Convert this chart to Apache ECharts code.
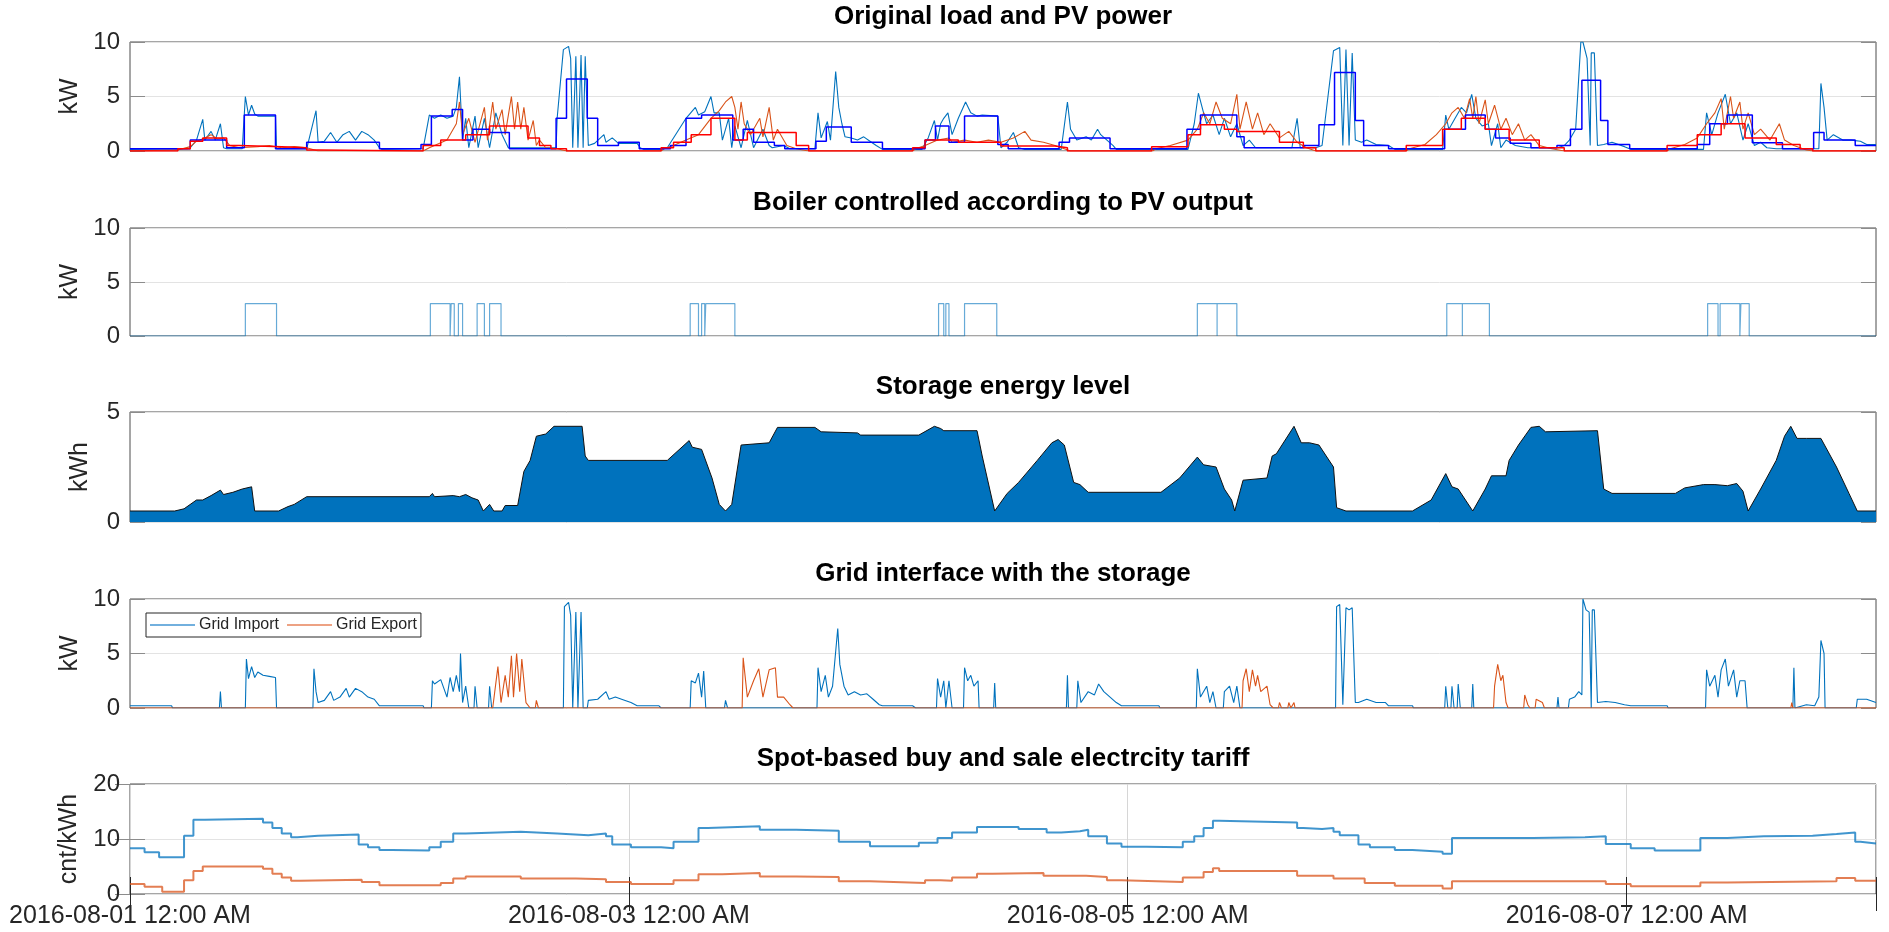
<!DOCTYPE html>
<html>
<head>
<meta charset="utf-8">
<title>Load, PV, boiler, storage and tariff</title>
<script src="https://cdn.jsdelivr.net/npm/echarts@6/dist/echarts.min.js"></script>
<style>
  html, body { margin: 0; padding: 0; background: #fff; }
  #main { width: 1889px; height: 932px; }
</style>
</head>
<body>
<div id="main"></div>
<script>
// hours since 2016-08-01 00:00 -> value
var tickHours = [0, 48, 96, 144];
var tickLabels = ['2016-08-01 12:00 AM', '2016-08-03 12:00 AM', '2016-08-05 12:00 AM', '2016-08-07 12:00 AM'];

var panelTitles = ['Original load and PV power', 'Boiler controlled according to PV output', 'Storage energy level',
    'Grid interface with the storage', 'Spot-based buy and sale electrcity tariff'];
var panelUnits = ['kW', 'kW', 'kWh', 'kW', 'cnt/kWh'];
var panelMax = [10, 10, 5, 10, 20];
var panelStep = [5, 5, 5, 5, 10];

// panel 1 : original load (raw), PV (raw), hourly load, hourly PV
var loadRaw = [[0,0.15],[5.5,0.2],[5.8,0.3],[6.4,1.0],[7.0,2.9],[7.2,1.0],[7.8,1.8],[8.2,1.0],[8.7,2.5],[9.0,0.3],[9.3,0.2],[10.8,0.2],[11.1,5.0],[11.4,3.3],[11.7,4.2],[12.0,3.4],[12.3,3.2],[14.0,3.2],[14.1,0.2],[17.0,0.2],[17.9,3.7],[18.1,0.8],[18.7,0.9],[19.3,1.7],[19.9,0.8],[20.5,1.5],[21.1,1.8],[21.7,1.0],[22.3,1.8],[22.9,1.5],[23.5,1.0],[24.0,0.3],[24.2,0.15],[28.2,0.2],[28.8,3.3],[29.3,3.0],[29.9,3.3],[30.5,3.0],[31.1,3.2],[31.4,4.0],[31.7,6.8],[32.0,1.0],[32.3,3.0],[32.6,0.3],[33.2,3.2],[33.5,0.3],[34.1,3.0],[34.6,0.3],[35.2,3.5],[35.8,1.5],[36.4,0.3],[41.0,0.3],[41.1,3.0],[41.7,9.3],[42.2,9.6],[42.4,8.5],[42.6,0.3],[42.9,8.7],[43.1,0.3],[43.4,8.8],[43.6,0.3],[43.8,8.7],[44.1,0.5],[44.7,0.7],[45.6,1.5],[45.8,0.8],[46.4,1.2],[47.0,0.7],[48.8,0.7],[49.1,0.3],[49.4,0.15],[51.1,0.15],[51.7,0.3],[53.5,3.0],[54.4,4.0],[54.7,3.3],[55.3,3.6],[55.9,5.0],[56.2,3.5],[56.7,3.5],[57.0,1.0],[57.6,3.0],[57.9,0.3],[58.2,2.3],[58.8,0.3],[59.4,2.8],[60.0,0.3],[60.9,2.0],[61.5,0.5],[61.8,0.3],[62.9,0.5],[63.5,0.2],[65.9,0.2],[66.2,3.5],[66.5,1.2],[67.1,2.7],[67.4,1.0],[67.9,7.3],[68.2,4.0],[68.5,2.5],[68.8,1.3],[69.4,1.2],[70.0,1.0],[70.6,1.3],[71.2,0.9],[71.8,0.5],[72.4,0.15],[76.2,0.15],[76.8,1.2],[77.4,2.8],[77.7,1.0],[78.0,2.5],[78.3,3.0],[78.7,3.5],[79.1,1.5],[79.7,3.0],[80.4,4.5],[80.9,3.5],[81.5,3.2],[82.0,3.3],[83.5,3.2],[83.8,0.3],[84.4,0.8],[85.0,1.7],[85.5,0.3],[86.1,0.15],[89.6,0.15],[90.2,4.5],[90.5,2.0],[91.1,1.0],[92.0,1.3],[92.5,1.0],[93.1,2.0],[93.4,1.5],[94.0,1.0],[94.6,0.5],[94.9,0.15],[101.8,0.15],[102.4,2.5],[102.8,5.3],[103.3,3.5],[103.6,2.5],[104.2,3.3],[104.8,1.5],[105.3,3.0],[105.9,1.3],[106.5,2.5],[107.1,0.5],[107.7,1.0],[108.3,0.3],[111.8,0.3],[112.3,3.0],[112.6,0.3],[114.1,0.3],[114.7,0.5],[115.8,9.2],[116.4,9.5],[116.7,0.5],[117.0,9.3],[117.3,0.5],[117.6,9.0],[117.9,1.0],[118.5,0.8],[119.0,1.0],[119.9,0.6],[121.1,0.5],[121.7,0.15],[126.3,0.15],[126.6,3.3],[126.9,2.0],[127.5,3.0],[128.1,4.0],[128.6,3.5],[129.1,5.2],[129.5,3.0],[130.1,2.3],[130.7,2.5],[131.0,0.5],[131.6,2.5],[131.9,0.3],[132.4,1.0],[133.3,0.5],[134.5,0.3],[137.4,0.3],[138.0,0.5],[138.5,1.0],[139.1,2.0],[139.6,10.0],[139.8,10.0],[140.2,8.5],[140.5,0.5],[140.6,9.0],[140.9,9.0],[141.2,0.5],[141.8,0.6],[142.6,0.8],[143.8,0.4],[144.4,0.15],[151.4,0.15],[151.7,3.5],[152.2,1.5],[152.8,3.5],[153.5,5.2],[154.0,2.5],[154.6,3.5],[155.2,1.0],[155.7,2.5],[156.3,0.5],[156.9,0.8],[157.5,0.3],[158.4,0.2],[162.5,0.2],[162.7,6.2],[163.0,4.0],[163.3,1.0],[163.9,1.5],[164.8,1.0],[165.6,1.0],[166.5,0.9],[167.1,0.6],[168,0.6]];

var pvRaw = [[0,0],[4.6,0.1],[5.8,0.4],[6.4,0.9],[7.2,1.2],[7.8,1.5],[8.4,1.1],[9.0,1.2],[9.6,0.5],[10.5,0.3],[12.3,0.4],[13.4,0.5],[14.6,0.3],[15.8,0.4],[17.0,0.3],[18.1,0],[28.2,0],[28.8,0.3],[29.3,0.5],[30.5,1.0],[31.4,2.5],[31.7,4.5],[32.0,1.5],[32.6,3.0],[33.2,0.8],[34.1,4.0],[34.4,1.0],[34.9,4.5],[35.2,2.0],[35.8,3.8],[36.1,1.5],[36.7,5.0],[37.0,2.0],[37.3,4.5],[37.6,2.0],[37.9,4.0],[38.3,1.0],[38.8,2.8],[39.1,0.5],[39.4,1.0],[40.0,0.3],[41.1,0.2],[42.0,0],[51.1,0],[51.4,0.2],[52.3,0.5],[53.5,1.0],[54.7,1.5],[55.9,3.0],[56.7,3.7],[57.3,4.5],[57.9,5.0],[58.2,4.0],[58.5,2.0],[58.8,4.5],[59.1,2.5],[59.7,1.5],[60.6,3.0],[60.9,1.3],[61.5,4.0],[61.9,1.0],[62.3,2.0],[63.2,0.5],[64.1,0.2],[65.3,0],[75.3,0],[75.6,0.2],[76.5,0.5],[77.7,1.0],[78.8,1.2],[79.1,0.8],[80.3,1.0],[81.5,0.8],[82.6,1.0],[83.8,0.8],[85.0,1.2],[86.1,1.8],[86.7,1.0],[87.9,0.8],[89.0,0.5],[89.9,0.2],[90.5,0],[98.4,0],[98.7,0.2],[100.1,0.5],[101.8,1.0],[102.7,2.0],[103.3,3.5],[103.9,2.5],[104.5,4.5],[105.1,3.0],[105.9,2.5],[106.5,5.2],[106.8,2.0],[107.4,4.5],[108.0,2.0],[108.5,3.5],[109.1,1.5],[109.7,2.5],[110.6,1.2],[111.5,1.8],[112.3,0.8],[113.2,0.3],[114.1,0],[122.8,0],[123.1,0.2],[124.6,0.6],[125.7,1.5],[126.6,2.5],[127.2,3.5],[127.8,4.0],[128.4,3.0],[128.9,4.8],[129.2,3.0],[129.5,5.0],[129.8,2.5],[130.4,4.7],[130.7,2.5],[131.3,4.2],[131.9,2.0],[132.4,3.0],[133.0,1.5],[133.6,2.5],[134.2,1.0],[134.8,1.5],[135.6,0.5],[136.8,0.2],[138.0,0],[147.9,0],[148.2,0.2],[149.6,0.6],[150.8,1.2],[151.7,2.5],[152.5,3.5],[153.1,4.8],[153.4,2.0],[154.0,5.0],[154.3,3.0],[154.9,4.5],[155.2,2.0],[155.7,3.5],[156.3,1.5],[156.9,2.0],[157.8,1.0],[158.7,2.5],[159.2,1.0],[160.1,0.5],[161.3,0.1],[161.9,0],[168,0]];

var loadHourly = [[0,0.2],[5.8,1.0],[9.3,0.3],[11.0,3.3],[14.0,0.2],[17.0,0.8],[24.0,0.2],[28.0,0.6],[29.0,3.2],[31.0,3.8],[32.0,1.0],[33.0,2.0],[34.6,1.7],[36.5,0.2],[41.0,3.0],[42.0,6.6],[44.0,3.0],[45.0,0.5],[47.0,0.8],[49.0,0.2],[52.0,0.5],[53.5,3.0],[55.0,3.3],[58.0,1.0],[59.0,2.0],[60.0,0.8],[62.0,0.5],[63.0,0.2],[66.0,0.9],[67.0,2.2],[69.4,0.8],[72.4,0.2],[76.5,1.0],[77.5,2.3],[78.8,0.8],[80.3,3.2],[83.5,0.6],[84.5,0.2],[89.4,0.8],[90.4,1.2],[94.3,0.2],[101.7,2.0],[103.0,3.3],[106.5,1.3],[107.2,0.3],[112.9,0.5],[114.4,2.4],[115.9,7.2],[117.9,2.8],[118.7,0.5],[121.1,0.2],[126.5,2.0],[128.5,3.3],[130.4,2.0],[131.4,1.2],[132.8,0.7],[134.8,0.3],[137.3,0.5],[138.6,2.0],[139.7,6.5],[141.5,2.8],[142.2,0.6],[144.3,0.2],[150.8,0.6],[152.0,2.5],[153.7,3.3],[156.1,0.75],[159.0,0.2],[162.0,1.7],[163.0,1.0],[166.0,0.5],[168,0.5]];

var pvHourly = [[0,0],[4.6,0.2],[5.8,0.9],[7.0,1.2],[9.3,0.5],[10.5,0.4],[14.6,0.3],[17.0,0.1],[18.1,0],[28.2,0.5],[29.9,1.0],[32.3,1.5],[34.6,2.3],[38.3,1.2],[39.4,0.5],[40.5,0.2],[42.0,0],[51.1,0.3],[52.3,0.8],[54.0,1.5],[55.9,3.0],[58.2,1.0],[59.4,1.7],[64.1,0.5],[65.3,0],[75.3,0.3],[76.5,1.0],[79.7,0.8],[83.8,0.45],[89.0,0.3],[90.2,0],[98.3,0.4],[101.8,1.5],[103.0,2.4],[105.3,2.0],[106.5,1.8],[110.6,0.8],[112.9,0.3],[114.1,0],[122.8,0.5],[126.3,2.0],[128.1,3.0],[130.4,2.0],[132.7,1.0],[135.6,0.3],[138.0,0],[147.9,0.5],[150.8,1.5],[153.1,2.5],[155.4,1.2],[158.4,0.6],[160.7,0.2],[161.9,0],[168,0]];

// panel 2 : boiler on/off
var boilerKw = [[0,0],[11.1,3],[14.1,0],[28.9,3],[30.8,0],[30.9,3],[31.2,0],[31.6,3],[32.0,0],[33.4,3],[34.1,0],[34.6,3],[35.7,0],[53.9,3],[54.7,0],[55.0,3],[55.3,0],[55.4,3],[58.2,0],[77.8,3],[78.3,0],[78.5,3],[78.8,0],[80.3,3],[83.4,0],[102.7,3],[104.6,0],[104.6,3],[106.5,0],[126.7,3],[128.2,0],[128.2,3],[130.8,0],[151.8,3],[152.8,0],[153.0,3],[154.9,0],[155.0,3],[155.8,0],[168,0]];

// panel 3 : storage level
var storageKwh = [[0,0.5],[4.3,0.5],[5.2,0.6],[6.4,1.0],[7.0,1.0],[7.8,1.2],[8.7,1.45],[9.0,1.25],[9.9,1.35],[10.8,1.5],[11.7,1.6],[12.0,0.5],[14.3,0.5],[15.2,0.7],[15.8,0.8],[17.0,1.15],[28.8,1.15],[29.1,1.3],[29.3,1.15],[31.1,1.2],[31.7,1.15],[32.3,1.25],[32.9,1.1],[33.5,1.0],[34.0,0.5],[34.6,0.8],[35.0,0.5],[35.8,0.5],[36.1,0.75],[37.3,0.75],[37.9,2.3],[38.5,2.8],[39.1,3.9],[40.0,4.0],[40.8,4.35],[43.5,4.35],[43.8,3.0],[44.1,2.8],[51.7,2.8],[53.8,3.7],[54.1,3.4],[55.0,3.3],[56.0,2.0],[56.7,0.8],[57.3,0.5],[57.9,0.8],[58.8,3.5],[61.5,3.6],[62.3,4.3],[65.9,4.3],[66.5,4.1],[70.0,4.05],[70.3,3.95],[75.9,3.95],[77.4,4.35],[78.0,4.25],[78.3,4.15],[81.5,4.15],[82.0,3.0],[83.2,0.5],[84.4,1.3],[85.5,1.8],[87.3,2.8],[88.7,3.6],[89.3,3.75],[89.9,3.5],[90.8,1.8],[91.4,1.7],[92.2,1.35],[99.2,1.35],[101.0,2.0],[102.7,2.95],[103.3,2.6],[104.5,2.5],[105.3,1.5],[106.0,1.0],[106.3,0.5],[107.1,1.9],[109.4,2.0],[109.9,3.0],[110.3,3.1],[112.0,4.35],[112.7,3.6],[113.5,3.6],[114.4,3.5],[115.8,2.5],[116.1,0.65],[117.0,0.5],[123.4,0.5],[125.2,1.0],[126.6,2.2],[127.2,1.6],[127.8,1.5],[129.2,0.5],[130.4,1.5],[131.0,2.1],[132.4,2.1],[132.7,2.8],[133.6,3.5],[134.8,4.3],[135.6,4.35],[136.2,4.1],[141.2,4.15],[141.8,1.5],[142.6,1.3],[148.7,1.3],[149.6,1.55],[151.4,1.7],[152.5,1.7],[153.7,1.65],[154.6,1.75],[155.2,1.4],[155.7,0.5],[156.9,1.5],[158.4,2.8],[159.2,3.9],[159.8,4.35],[160.4,3.8],[161.3,3.8],[162.7,3.8],[164.2,2.5],[165.4,1.3],[166.2,0.5],[168,0.5]];

// panel 4 : grid import / export
var gridImport = [[0,0.2],[4.0,0.2],[4.1,0],[8.6,0],[8.7,1.5],[8.8,0],[11.1,0],[11.2,4.5],[11.4,2.7],[11.7,3.8],[12.0,2.8],[12.3,3.3],[12.8,3.0],[13.4,2.9],[14.0,2.8],[14.1,0],[17.6,0],[17.7,3.6],[17.9,1.5],[18.1,0.5],[18.7,0.7],[19.3,1.5],[19.6,0.7],[20.2,1.0],[20.8,1.8],[21.1,1.0],[21.7,1.8],[22.3,1.5],[22.9,1.0],[23.5,0.8],[24.0,0.2],[28.2,0.2],[28.3,0],[29.0,0],[29.1,2.5],[29.3,2.2],[29.9,2.6],[30.5,1.0],[30.8,2.8],[31.1,1.5],[31.4,3.0],[31.7,1.5],[31.8,5.0],[32.0,0.5],[32.3,2.0],[32.6,0],[33.1,0],[33.2,2.0],[33.4,0],[34.5,0],[34.6,2.0],[34.8,0],[41.7,0],[41.8,9.3],[42.2,9.7],[42.4,8.5],[42.6,0],[42.9,8.8],[43.1,0],[43.4,8.8],[43.6,0],[44.0,0],[44.1,0.7],[45.0,0.8],[45.8,1.5],[46.1,0.8],[46.7,1.0],[47.3,0.8],[48.2,0.5],[48.8,0.2],[50.9,0.2],[51.1,0],[53.9,0],[54.0,2.5],[54.4,2.3],[54.7,3.2],[55.0,1.0],[55.2,3.4],[55.4,0],[57.2,0],[57.3,0.7],[57.5,0],[66.1,0],[66.2,3.7],[66.5,1.5],[66.9,3.0],[67.2,1.0],[67.6,2.0],[68.1,7.3],[68.3,4.0],[68.7,2.0],[69.1,1.2],[69.7,1.5],[70.3,1.2],[70.9,1.3],[71.5,0.8],[72.1,0.3],[72.4,0.2],[75.3,0.2],[75.6,0],[77.6,0],[77.7,2.7],[78.0,1.0],[78.3,2.5],[78.5,0],[78.8,2.5],[79.1,0],[80.2,0],[80.3,3.7],[80.6,2.5],[80.9,3.0],[81.2,2.0],[81.6,2.5],[81.7,0],[83.1,0],[83.2,2.3],[83.3,0],[90.1,0],[90.2,3.0],[90.3,0],[91.1,0],[91.2,2.5],[91.5,0.5],[92.2,1.5],[92.8,1.2],[93.2,2.2],[93.7,1.5],[94.3,1.0],[94.9,0.5],[95.4,0.2],[99.0,0.2],[99.1,0],[102.6,0],[102.7,3.6],[103.0,1.0],[103.6,2.0],[103.9,0.5],[104.2,1.5],[104.5,0],[105.2,0],[105.3,1.5],[105.8,2.0],[106.2,0.5],[106.5,2.0],[106.8,0],[116.0,0],[116.1,9.3],[116.4,9.5],[116.7,0.3],[117.0,9.2],[117.3,9.0],[117.6,9.2],[117.9,0.5],[118.2,0.5],[119.0,0.8],[119.9,0.5],[120.8,0.5],[121.1,0.2],[123.4,0.2],[123.5,0],[126.5,0],[126.6,2.0],[126.8,0],[127.1,0],[127.2,2.0],[127.4,0],[127.7,0],[127.8,2.2],[128.0,0],[129.1,0],[129.2,2.2],[129.3,0],[137.3,0],[137.4,1.0],[137.5,0],[138.4,0],[138.5,0.8],[139.0,1.0],[139.4,1.5],[139.7,1.2],[139.8,10.0],[140.1,9.0],[140.4,8.8],[140.6,0],[140.7,9.0],[140.9,9.0],[141.2,0.5],[142.0,0.6],[142.9,0.5],[143.8,0.3],[144.4,0.2],[147.9,0.2],[148.0,0],[151.6,0],[151.7,3.5],[152.0,2.0],[152.5,3.0],[152.8,1.0],[153.1,3.5],[153.5,4.5],[153.8,2.0],[154.3,3.5],[154.6,1.0],[154.9,2.5],[155.4,2.5],[155.6,0],[160.0,0],[160.1,3.7],[160.2,0],[161.3,0.3],[162.1,0.2],[162.5,1.0],[162.7,6.2],[163.0,5.0],[163.1,0],[166.1,0],[166.2,0.8],[167.1,0.8],[168,0.5]];

var gridExport = [[0,0],[34.9,0],[35.4,3.8],[35.7,0.5],[36.1,3.0],[36.4,1.0],[36.7,4.8],[36.9,1.0],[37.2,5.0],[37.5,1.5],[37.7,4.5],[38.1,0.5],[38.5,0],[39.0,0],[39.1,0.7],[39.3,0],[58.9,0],[59.0,4.6],[59.4,1.0],[60.0,2.5],[60.5,3.6],[60.9,1.0],[61.5,3.5],[62.1,3.7],[62.3,1.0],[62.9,1.0],[63.5,0.3],[63.8,0],[107.0,0],[107.1,2.5],[107.4,3.6],[107.7,1.5],[108.0,3.5],[108.3,2.0],[108.5,3.0],[108.8,1.5],[109.4,2.0],[109.7,0.3],[110.0,0],[110.5,0],[110.6,0.5],[110.8,0],[111.4,0],[111.5,0.5],[111.7,0],[112.0,0.5],[112.1,0],[131.2,0],[131.3,2.0],[131.6,4.0],[131.9,2.5],[132.1,3.0],[132.4,0.5],[132.6,0],[134.1,0],[134.2,1.2],[134.5,0.3],[134.7,0],[135.2,0],[135.3,0.8],[135.9,0.5],[136.1,0],[159.8,0],[159.9,0.5],[160.0,0],[168,0]];

// panel 5 : hourly tariffs (value holds until next change)
var buyTariff = [[0,8.3],[1.4,7.6],[2.8,6.7],[5.2,10.6],[6.1,13.5],[7.2,13.7],[12.8,13.0],[13.7,12.0],[14.6,11.0],[15.5,10.3],[16.1,10.6],[18.1,10.8],[22.0,9.0],[22.9,8.5],[24.0,8.0],[25.2,7.9],[28.8,8.5],[29.9,9.5],[31.1,11.0],[32.3,11.3],[37.6,11.0],[41.1,10.7],[44.1,11.0],[45.8,10.5],[46.4,9.0],[48.2,8.5],[51.1,8.3],[52.3,9.5],[54.7,12.0],[55.6,12.3],[60.6,11.7],[64.1,11.5],[68.2,9.5],[71.2,8.7],[75.9,9.3],[77.7,10.2],[79.1,11.2],[81.5,12.2],[85.5,11.8],[88.2,11.2],[89.6,11.4],[91.4,11.7],[92.2,10.5],[94.0,9.2],[95.4,8.6],[97.8,8.5],[101.3,9.5],[102.4,10.5],[103.3,12.0],[104.2,13.3],[104.8,13.0],[112.3,12.0],[112.9,11.8],[114.7,12.0],[115.8,11.3],[116.4,10.7],[118.2,9.0],[119.3,8.5],[121.7,8.0],[123.4,7.7],[126.3,7.3],[127.2,10.2],[135.0,10.3],[140.0,10.5],[142.0,9.1],[144.4,8.3],[146.7,7.9],[151.1,10.2],[153.7,10.5],[157.2,10.6],[161.9,10.9],[164.2,11.2],[166.0,9.5],[166.5,9.2],[168,9.2]];

var saleTariff = [[0,1.8],[1.4,1.3],[3.1,0.4],[5.2,2.5],[6.1,4.2],[7.0,5.0],[12.8,4.6],[13.7,3.7],[14.6,3.0],[15.5,2.4],[16.4,2.6],[22.3,2.2],[24.0,1.6],[29.9,2.0],[31.1,2.8],[32.3,3.2],[37.6,2.8],[42.9,2.7],[45.8,2.2],[48.2,1.8],[52.3,2.5],[54.7,3.6],[57.0,3.8],[60.6,3.2],[64.1,3.1],[68.2,2.3],[71.2,2.0],[76.5,2.5],[78.0,2.4],[79.1,3.0],[81.5,3.7],[83.0,3.8],[87.9,3.3],[92.0,3.1],[94.0,2.5],[95.4,2.2],[101.3,3.0],[103.3,4.0],[104.2,4.7],[104.8,4.2],[112.3,3.3],[115.8,2.8],[118.8,2.0],[121.7,1.5],[126.3,1.0],[127.2,2.3],[142.0,1.8],[144.4,1.4],[151.1,2.1],[153.7,2.3],[164.2,2.9],[166.0,2.4],[168,2.4]];

var font = "'Liberation Sans', Arial, Helvetica, sans-serif";
var inkColor = '#262626';

var panelTop = [42, 228, 412, 599, 784];
var panelHeight = [109, 108, 110, 109, 110];

var myChart = echarts.init(document.getElementById('main'), null, { renderer: 'canvas' });

var grids = [], xAxes = [], yAxes = [], titles = [];
for (var i = 0; i < 5; i++) {
    grids.push({
        left: 130, right: 13, top: panelTop[i], height: panelHeight[i],
        show: true, borderColor: '#4d4d4d', borderWidth: 1, backgroundColor: '#fff'
    });
    titles.push({
        text: panelTitles[i], left: 1003, top: panelTop[i] - 38, textAlign: 'center', padding: 0,
        textStyle: { fontFamily: font, fontSize: 26, fontWeight: 'bold', color: '#000' }
    });
    var last = (i === 4);
    xAxes.push({
        type: 'value', gridIndex: i, min: 0, max: 168, interval: 48,
        axisLine: { show: false },
        axisTick: { show: last, inside: true, length: 17, lineStyle: { color: inkColor } },
        axisLabel: {
            show: last, margin: 10, fontFamily: font, fontSize: 25, color: inkColor,
            formatter: function (v) {
                var k = tickHours.indexOf(v);
                return k >= 0 ? tickLabels[k] : '';
            }
        },
        splitLine: { show: last, lineStyle: { color: '#d6d6d6' } }
    });
    yAxes.push({
        type: 'value', gridIndex: i, min: 0, max: panelMax[i], interval: panelStep[i],
        name: panelUnits[i], nameLocation: 'middle', nameGap: last ? 48 : 37, nameRotate: 90,
        nameTextStyle: { fontFamily: font, fontSize: 25, color: inkColor },
        axisLine: { show: false },
        axisTick: { show: true, inside: true, length: 15, lineStyle: { color: '#8c8c8c' } },
        axisLabel: { margin: 10, fontFamily: font, fontSize: 24, color: inkColor },
        splitLine: { show: true, lineStyle: { color: '#e3e3e3' } }
    });
}
// right-hand ticks of every box
for (var j = 0; j < 5; j++) {
    yAxes.push({
        type: 'value', gridIndex: j, position: 'right', min: 0, max: panelMax[j], interval: panelStep[j],
        axisLine: { show: false }, axisLabel: { show: false }, splitLine: { show: false },
        axisTick: { show: true, inside: true, length: 15, lineStyle: { color: '#8c8c8c' } }
    });
}
// top ticks of the tariff box
xAxes.push({
    type: 'value', gridIndex: 4, position: 'top', min: 0, max: 168, interval: 48,
    axisLine: { show: false }, axisLabel: { show: false }, splitLine: { show: false },
    axisTick: { show: true, inside: true, length: 17, lineStyle: { color: inkColor } }
});

var lineSeries = function (name, data, idx, color, width, extra) {
    var s = {
        name: name, type: 'line', data: data, xAxisIndex: idx, yAxisIndex: idx,
        symbol: 'none', animation: false,
        lineStyle: { color: color, width: width },
        itemStyle: { color: color }
    };
    for (var k in extra) { s[k] = extra[k]; }
    return s;
};

var option = {
    backgroundColor: '#fff',
    animation: false,
    title: titles,
    grid: grids,
    xAxis: xAxes,
    yAxis: yAxes,
    legend: {
        data: [
            { name: 'Grid Import', itemStyle: { color: '#72b0de' } },
            { name: 'Grid Export', itemStyle: { color: '#eda283' } }
        ],
        left: 146, top: 613, orient: 'horizontal', icon: 'rect',
        backgroundColor: '#fff', borderColor: inkColor, borderWidth: 1,
        padding: [4, 4], itemGap: 8, itemWidth: 45, itemHeight: 2,
        textStyle: { fontFamily: font, fontSize: 16, color: inkColor, padding: [0, 0, 0, -1] }
    },
    series: [
        lineSeries('Load', loadRaw, 0, '#0072BD', 1.1, {}),
        lineSeries('PV', pvRaw, 0, '#D95319', 1.1, {}),
        lineSeries('Load hourly', loadHourly, 0, '#0000FF', 1.5, { step: 'end' }),
        lineSeries('PV hourly', pvHourly, 0, '#FF0000', 1.5, { step: 'end' }),
        lineSeries('Boiler', boilerKw, 1, 'rgba(0,114,189,0.6)', 1.2, { step: 'end' }),
        lineSeries('Storage', storageKwh, 2, '#111', 1, {
            areaStyle: { color: '#0072BD', opacity: 1 }
        }),
        lineSeries('Grid Import', gridImport, 3, '#0072BD', 1.1, {}),
        lineSeries('Grid Export', gridExport, 3, '#D95319', 1.1, {}),
        lineSeries('Buy', buyTariff, 4, 'rgba(0,114,189,0.75)', 2, { step: 'end' }),
        lineSeries('Sale', saleTariff, 4, 'rgba(217,83,25,0.75)', 2, { step: 'end' })
    ]
};

myChart.setOption(option);
</script>
</body>
</html>
